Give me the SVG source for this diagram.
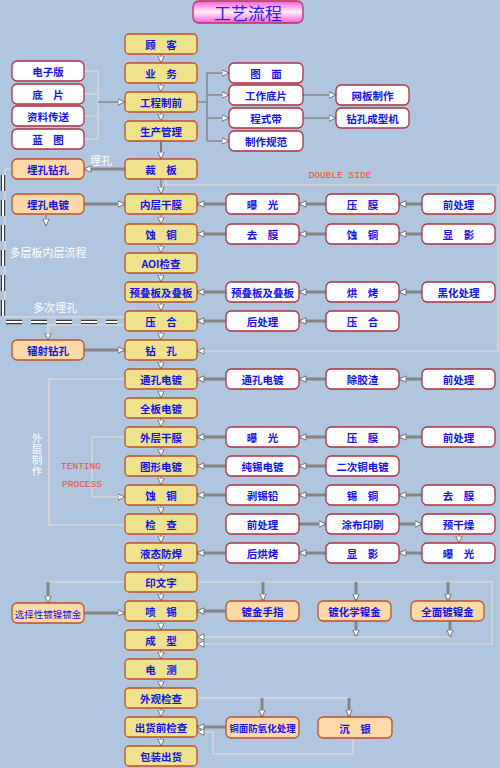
<svg xmlns="http://www.w3.org/2000/svg" width="500" height="768" viewBox="0 0 500 768">
<defs>
<linearGradient id="tg" x1="0" y1="0" x2="0" y2="1">
<stop offset="0" stop-color="#FF5CD8"/><stop offset="0.5" stop-color="#FFEFFB"/><stop offset="1" stop-color="#FF5CD8"/>
</linearGradient>
<marker id="ar" markerUnits="userSpaceOnUse" markerWidth="8" markerHeight="8" viewBox="0 0 8 8" refX="7.5" refY="4" orient="auto">
<path d="M0.5,0.8 L7.5,4 L0.5,7.2 Z" fill="#ffffff" stroke="#6a6a6a" stroke-width="0.9"/>
</marker>
<style>
.m{fill:#EEE38C;stroke:#C0502A;stroke-width:1.3}
.w{fill:#ffffff;stroke:#B03040;stroke-width:1.3}
.p{fill:#FFD9A8;stroke:#C0502A;stroke-width:1.3}
.t{font-family:"Noto Sans CJK SC","Noto Sans",sans-serif;font-weight:bold;font-size:10.5px;fill:#1414E6;text-anchor:middle;dominant-baseline:central}
.s{font-size:9.5px}
.lab{font-family:"Noto Sans CJK SC","Noto Sans",sans-serif;font-size:11px;fill:#ffffff;text-anchor:middle;dominant-baseline:central}
.en{font-family:"Liberation Mono","DejaVu Sans Mono",monospace;font-size:9.5px;fill:#F04A3A;text-anchor:middle;dominant-baseline:central}
.k{fill:none;stroke:#858585;stroke-width:3;marker-end:url(#ar)}
.v{fill:none;stroke:#7a7a7a;stroke-width:1.2;marker-end:url(#ar)}
.g{fill:none;stroke:#868686;stroke-width:1.5}
.ga{fill:none;stroke:#868686;stroke-width:1.5;marker-end:url(#ar)}
.l{fill:none;stroke:#D8D8D8;stroke-width:1.6}
.la{fill:none;stroke:#D8D8D8;stroke-width:1.6;marker-end:url(#ar)}
</style>
</defs>
<rect x="0" y="0" width="500" height="768" fill="#AFC6DE"/>

<g id="title">
<rect x="193" y="1" width="110" height="22" rx="6" fill="url(#tg)" stroke="#C03060" stroke-width="1.3"/>
<text x="248" y="12.5" style="font-family:'Noto Sans CJK SC',sans-serif;font-size:17px;fill:#2222EE;text-anchor:middle;dominant-baseline:central">工艺流程</text>
</g>

<g id="connectors">
<line class="v" x1="161" y1="54" x2="161" y2="63"/>
<line class="v" x1="161" y1="83" x2="161" y2="92"/>
<line class="v" x1="161" y1="112" x2="161" y2="121"/>
<line class="v" x1="161" y1="141" x2="161" y2="159" style="stroke-width:2"/>
<line class="v" x1="161" y1="179" x2="161" y2="194"/>
<line class="v" x1="161" y1="214" x2="161" y2="224"/>
<line class="v" x1="161" y1="244" x2="161" y2="253"/>
<line class="v" x1="161" y1="273" x2="161" y2="282"/>
<line class="v" x1="161" y1="302" x2="161" y2="311"/>
<line class="v" x1="161" y1="331" x2="161" y2="340"/>
<line class="v" x1="161" y1="360" x2="161" y2="369"/>
<line class="v" x1="161" y1="389" x2="161" y2="398"/>
<line class="v" x1="161" y1="418" x2="161" y2="427"/>
<line class="v" x1="161" y1="447" x2="161" y2="456"/>
<line class="v" x1="161" y1="476" x2="161" y2="485"/>
<line class="v" x1="161" y1="505" x2="161" y2="514"/>
<line class="v" x1="161" y1="534" x2="161" y2="543"/>
<line class="v" x1="161" y1="563" x2="161" y2="572"/>
<line class="v" x1="161" y1="592" x2="161" y2="601"/>
<line class="v" x1="161" y1="621" x2="161" y2="630"/>
<line class="v" x1="161" y1="650" x2="161" y2="659"/>
<line class="v" x1="161" y1="679" x2="161" y2="688"/>
<line class="v" x1="161" y1="708" x2="161" y2="717"/>
<line class="v" x1="161" y1="737" x2="161" y2="746"/>

<path class="l" d="M84,71 H98 M84,94 H98 M84,116 H98 M84,139 H98 M98,71 V139"/>
<path class="ga" d="M98,102 H125"/>
<path class="g" d="M197,102 H207 M207,73 V141"/>
<path class="ga" d="M207,73 H229"/>
<path class="ga" d="M207,95 H229"/>
<path class="ga" d="M207,118 H229"/>
<path class="ga" d="M207,141 H229"/>
<path class="ga" d="M303,95 H336"/>
<path class="ga" d="M303,118 H336"/>

<path class="la" d="M166,179 V185 H498 V351 H197"/>

<path class="k" d="M125,169 H84"/>
<path class="k" d="M84,204 H125"/>
<path class="v" d="M46,215 V226"/>
<path class="l" d="M12,169 H5 V317 H125"/>
<path d="M3,175 V322 H117" fill="none" stroke="#3a3a3a" stroke-width="4.5" stroke-dasharray="16 9"/>
<path d="M3,175 V322 H117" fill="none" stroke="#ffffff" stroke-width="2" stroke-dasharray="16 9"/>
<path class="la" d="M125,325 H48 V340"/>
<path class="k" d="M84,350 H125"/>

<path class="k" d="M226,204 H197"/><path class="k" d="M326,204 H299"/><path class="k" d="M422,204 H399"/>
<path class="k" d="M226,234 H197"/><path class="k" d="M326,234 H299"/><path class="k" d="M422,234 H399"/>
<path class="k" d="M226,292 H197"/><path class="k" d="M326,292 H299"/><path class="k" d="M422,292 H399"/>
<path class="k" d="M226,321 H197"/><path class="k" d="M326,321 H299"/>

<path class="k" d="M226,379 H197"/><path class="k" d="M326,379 H299"/><path class="k" d="M422,379 H399"/>
<path class="k" d="M226,437 H197"/><path class="k" d="M326,437 H299"/><path class="k" d="M422,437 H399"/>
<path class="k" d="M226,466 H197"/><path class="k" d="M326,466 H299"/>
<path class="k" d="M226,495 H197"/><path class="k" d="M326,495 H299"/><path class="k" d="M422,495 H399"/>
<path class="k" d="M299,524 H326"/><path class="k" d="M399,524 H422"/>
<path class="v" d="M459,534 V543"/>
<path class="k" d="M226,553 H197"/><path class="k" d="M326,553 H299"/><path class="k" d="M422,553 H399"/>

<path class="l" d="M125,379 H49 V525 H125"/>
<path class="la" d="M125,437 H92 V497 H125"/>

<path class="l" d="M125,582 H48"/>
<path class="k" d="M48,582 V603"/>
<path class="k" d="M84,613 H125"/>
<path class="la" d="M197,582 H492 V644 H197"/>
<path class="k" d="M263,582 V601"/>
<path class="k" d="M356,582 V601"/>
<path class="k" d="M448,582 V601"/>
<path class="k" d="M226,611 H197"/>
<path class="k" d="M356,621 V637"/>
<path class="k" d="M450,621 V637"/>
<path class="la" d="M450,637 H197"/>

<path class="l" d="M197,698 H349"/>
<path class="k" d="M262,698 V717"/>
<path class="k" d="M349,698 V717"/>
<path class="k" d="M226,727 H197"/>
<path class="la" d="M353,738 V754 H213 V732 H197"/>
</g>

<g id="labels">
<text class="lab" x="101" y="160">埋孔</text>
<text class="lab" x="48" y="252">多层板内层流程</text>
<text class="lab" x="55" y="307">多次埋孔</text>
<text x="37" y="433" style="font-family:'Noto Sans CJK SC',sans-serif;font-size:10.5px;fill:#ffffff;writing-mode:vertical-rl;text-orientation:upright;letter-spacing:0.5px">外层制作</text>
<text class="en" x="340" y="175">DOUBLE SIDE</text>
<text class="en" x="81" y="466">TENTING</text>
<text class="en" x="82" y="484">PROCESS</text>
</g>

<g id="n_guke"><rect class="m" x="125" y="34" width="72" height="20" rx="4"/><text class="t" x="161" y="44.5">顾　客</text></g>
<g id="n_yewu"><rect class="m" x="125" y="63" width="72" height="20" rx="4"/><text class="t" x="161" y="73.5">业　务</text></g>
<g id="n_gczq"><rect class="m" x="125" y="92" width="72" height="20" rx="4"/><text class="t" x="161" y="102.5">工程制前</text></g>
<g id="n_scgl"><rect class="m" x="125" y="121" width="72" height="20" rx="4"/><text class="t" x="161" y="131.5">生产管理</text></g>
<g id="n_caiban"><rect class="m" x="125" y="159" width="72" height="20" rx="4"/><text class="t" x="161" y="169.5">裁　板</text></g>
<g id="n_nchgm"><rect class="m" x="125" y="194" width="72" height="20" rx="4"/><text class="t" x="161" y="204.5">内层干膜</text></g>
<g id="n_shitong1"><rect class="m" x="125" y="224" width="72" height="20" rx="4"/><text class="t" x="161" y="234.5">蚀　铜</text></g>
<g id="n_aoi"><rect class="m" x="125" y="253" width="72" height="20" rx="4"/><text class="t" x="161" y="263.5">AOI检查</text></g>
<g id="n_ydb"><rect class="m" x="125" y="282" width="72" height="20" rx="4"/><text class="t" x="161" y="292.5">预叠板及叠板</text></g>
<g id="n_yahe"><rect class="m" x="125" y="311" width="72" height="20" rx="4"/><text class="t" x="161" y="321.5">压　合</text></g>
<g id="n_zuankong"><rect class="m" x="125" y="340" width="72" height="20" rx="4"/><text class="t" x="161" y="350.5">钻　孔</text></g>
<g id="n_tkdd"><rect class="m" x="125" y="369" width="72" height="20" rx="4"/><text class="t" x="161" y="379.5">通孔电镀</text></g>
<g id="n_qbdd"><rect class="m" x="125" y="398" width="72" height="20" rx="4"/><text class="t" x="161" y="408.5">全板电镀</text></g>
<g id="n_wcgm"><rect class="m" x="125" y="427" width="72" height="20" rx="4"/><text class="t" x="161" y="437.5">外层干膜</text></g>
<g id="n_txdd"><rect class="m" x="125" y="456" width="72" height="20" rx="4"/><text class="t" x="161" y="466.5">图形电镀</text></g>
<g id="n_shitong2"><rect class="m" x="125" y="485" width="72" height="20" rx="4"/><text class="t" x="161" y="495.5">蚀　铜</text></g>
<g id="n_jiancha"><rect class="m" x="125" y="514" width="72" height="20" rx="4"/><text class="t" x="161" y="524.5">检　查</text></g>
<g id="n_ytfh"><rect class="m" x="125" y="543" width="72" height="20" rx="4"/><text class="t" x="161" y="553.5">液态防焊</text></g>
<g id="n_ywz"><rect class="m" x="125" y="572" width="72" height="20" rx="4"/><text class="t" x="161" y="582.5">印文字</text></g>
<g id="n_penxi"><rect class="m" x="125" y="601" width="72" height="20" rx="4"/><text class="t" x="161" y="611.5">喷　锡</text></g>
<g id="n_chengxing"><rect class="m" x="125" y="630" width="72" height="20" rx="4"/><text class="t" x="161" y="640.5">成　型</text></g>
<g id="n_dianc"><rect class="m" x="125" y="659" width="72" height="20" rx="4"/><text class="t" x="161" y="669.5">电　测</text></g>
<g id="n_wgjc"><rect class="m" x="125" y="688" width="72" height="20" rx="4"/><text class="t" x="161" y="698.5">外观检查</text></g>
<g id="n_chqjc"><rect class="m" x="125" y="717" width="72" height="20" rx="4"/><text class="t" x="161" y="727.5">出货前检查</text></g>
<g id="n_bzch"><rect class="m" x="125" y="746" width="72" height="20" rx="4"/><text class="t" x="161" y="756.5">包装出货</text></g>

<g id="n_dzb"><rect class="w" x="12" y="61" width="72" height="20" rx="5"/><text class="t" x="48" y="71.5">电子版</text></g>
<g id="n_dp"><rect class="w" x="12" y="84" width="72" height="20" rx="5"/><text class="t" x="48" y="94.5">底　片</text></g>
<g id="n_zlcs"><rect class="w" x="12" y="106" width="72" height="20" rx="5"/><text class="t" x="48" y="116.5">资料传送</text></g>
<g id="n_lt"><rect class="w" x="12" y="129" width="72" height="20" rx="5"/><text class="t" x="48" y="139.5">蓝　图</text></g>

<g id="n_tm"><rect class="w" x="229" y="63" width="74" height="20" rx="5"/><text class="t" x="266" y="73.5">图　面</text></g>
<g id="n_gzdp"><rect class="w" x="229" y="85" width="74" height="20" rx="5"/><text class="t" x="266" y="95.5">工作底片</text></g>
<g id="n_csd"><rect class="w" x="229" y="108" width="74" height="20" rx="5"/><text class="t" x="266" y="118.5">程式带</text></g>
<g id="n_zzgf"><rect class="w" x="229" y="131" width="74" height="20" rx="5"/><text class="t" x="266" y="141.5">制作规范</text></g>
<g id="n_wbzz"><rect class="w" x="336" y="85" width="73" height="20" rx="5"/><text class="t" x="372.5" y="95.5">网板制作</text></g>
<g id="n_zkcxj"><rect class="w" x="336" y="108" width="73" height="20" rx="5"/><text class="t" x="372.5" y="118.5">钻孔成型机</text></g>

<g id="n_mkzk"><rect class="p" x="12" y="159" width="72" height="20" rx="5"/><text class="t" x="48" y="169.5">埋孔钻孔</text></g>
<g id="n_mkdd"><rect class="p" x="12" y="194" width="72" height="20" rx="5"/><text class="t" x="48" y="204.5">埋孔电镀</text></g>
<g id="n_lszk"><rect class="p" x="12" y="340" width="72" height="20" rx="5"/><text class="t" x="48" y="350.5">镭射钻孔</text></g>

<g id="r1a"><rect class="w" x="226" y="194" width="73" height="20" rx="5"/><text class="t" x="262.5" y="204.5">曝　光</text></g>
<g id="r1b"><rect class="w" x="326" y="194" width="73" height="20" rx="5"/><text class="t" x="362.5" y="204.5">压　膜</text></g>
<g id="r1c"><rect class="w" x="422" y="194" width="73" height="20" rx="5"/><text class="t" x="458.5" y="204.5">前处理</text></g>
<g id="r2a"><rect class="w" x="226" y="224" width="73" height="20" rx="5"/><text class="t" x="262.5" y="234.5">去　膜</text></g>
<g id="r2b"><rect class="w" x="326" y="224" width="73" height="20" rx="5"/><text class="t" x="362.5" y="234.5">蚀　铜</text></g>
<g id="r2c"><rect class="w" x="422" y="224" width="73" height="20" rx="5"/><text class="t" x="458.5" y="234.5">显　影</text></g>
<g id="r3a"><rect class="w" x="226" y="282" width="73" height="20" rx="5"/><text class="t" x="262.5" y="292.5">预叠板及叠板</text></g>
<g id="r3b"><rect class="w" x="326" y="282" width="73" height="20" rx="5"/><text class="t" x="362.5" y="292.5">烘　烤</text></g>
<g id="r3c"><rect class="w" x="422" y="282" width="73" height="20" rx="5"/><text class="t" x="458.5" y="292.5">黑化处理</text></g>
<g id="r4a"><rect class="w" x="226" y="311" width="73" height="20" rx="5"/><text class="t" x="262.5" y="321.5">后处理</text></g>
<g id="r4b"><rect class="w" x="326" y="311" width="73" height="20" rx="5"/><text class="t" x="362.5" y="321.5">压　合</text></g>

<g id="r5a"><rect class="w" x="226" y="369" width="73" height="20" rx="5"/><text class="t" x="262.5" y="379.5">通孔电镀</text></g>
<g id="r5b"><rect class="w" x="326" y="369" width="73" height="20" rx="5"/><text class="t" x="362.5" y="379.5">除胶渣</text></g>
<g id="r5c"><rect class="w" x="422" y="369" width="73" height="20" rx="5"/><text class="t" x="458.5" y="379.5">前处理</text></g>
<g id="r6a"><rect class="w" x="226" y="427" width="73" height="20" rx="5"/><text class="t" x="262.5" y="437.5">曝　光</text></g>
<g id="r6b"><rect class="w" x="326" y="427" width="73" height="20" rx="5"/><text class="t" x="362.5" y="437.5">压　膜</text></g>
<g id="r6c"><rect class="w" x="422" y="427" width="73" height="20" rx="5"/><text class="t" x="458.5" y="437.5">前处理</text></g>
<g id="r7a"><rect class="w" x="226" y="456" width="73" height="20" rx="5"/><text class="t" x="262.5" y="466.5">纯锡电镀</text></g>
<g id="r7b"><rect class="w" x="326" y="456" width="73" height="20" rx="5"/><text class="t" x="362.5" y="466.5">二次铜电镀</text></g>
<g id="r8a"><rect class="w" x="226" y="485" width="73" height="20" rx="5"/><text class="t" x="262.5" y="495.5">剥锡铅</text></g>
<g id="r8b"><rect class="w" x="326" y="485" width="73" height="20" rx="5"/><text class="t" x="362.5" y="495.5">锡　铜</text></g>
<g id="r8c"><rect class="w" x="422" y="485" width="73" height="20" rx="5"/><text class="t" x="458.5" y="495.5">去　膜</text></g>
<g id="r9a"><rect class="w" x="226" y="514" width="73" height="20" rx="5"/><text class="t" x="262.5" y="524.5">前处理</text></g>
<g id="r9b"><rect class="w" x="326" y="514" width="73" height="20" rx="5"/><text class="t" x="362.5" y="524.5">涂布印刷</text></g>
<g id="r9c"><rect class="w" x="422" y="514" width="73" height="20" rx="5"/><text class="t" x="458.5" y="524.5">预干燥</text></g>
<g id="r10a"><rect class="w" x="226" y="543" width="73" height="20" rx="5"/><text class="t" x="262.5" y="553.5">后烘烤</text></g>
<g id="r10b"><rect class="w" x="326" y="543" width="73" height="20" rx="5"/><text class="t" x="362.5" y="553.5">显　影</text></g>
<g id="r10c"><rect class="w" x="422" y="543" width="73" height="20" rx="5"/><text class="t" x="458.5" y="553.5">曝　光</text></g>

<g id="n_xzx"><rect class="p" x="12" y="603" width="72" height="20" rx="5"/><text class="t s" x="48" y="613.5" style="font-weight:normal">选择性镀镍镀金</text></g>
<g id="n_djsz"><rect class="p" x="226" y="601" width="73" height="20" rx="5"/><text class="t" x="262.5" y="611.5">镀金手指</text></g>
<g id="n_dhxnj"><rect class="p" x="318" y="601" width="73" height="20" rx="5"/><text class="t" x="354.5" y="611.5">镀化学镍金</text></g>
<g id="n_qmdnj"><rect class="p" x="411" y="601" width="73" height="20" rx="5"/><text class="t" x="447.5" y="611.5">全面镀镍金</text></g>
<g id="n_tmfyh"><rect class="p" x="226" y="717" width="73" height="21" rx="5"/><text class="t s" x="262.5" y="728">铜面防氧化处理</text></g>
<g id="n_cy"><rect class="p" x="318" y="717" width="74" height="21" rx="5"/><text class="t" x="355" y="728">沉　银</text></g>
</svg>
